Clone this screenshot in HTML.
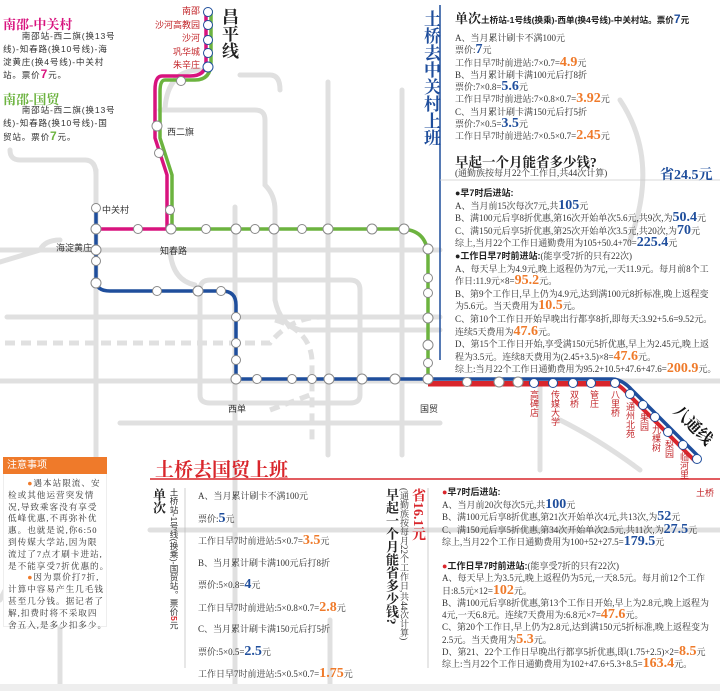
<!DOCTYPE html>
<html><head><meta charset="utf-8">
<style>
*{margin:0;padding:0;box-sizing:border-box}
body{width:720px;height:691px;background:#fff;position:relative;overflow:hidden;font-family:"Liberation Serif","Noto Serif CJK SC",serif;color:#333}
.a{position:absolute;white-space:nowrap}
.t{font-size:9px;line-height:12px}
.s{font-family:"Liberation Sans","Noto Sans CJK SC",sans-serif}
.b{color:#1f4e9c;font-weight:bold;font-size:14px}
.o{color:#ef7a2a;font-weight:bold;font-size:14px}
.v{writing-mode:vertical-rl}
</style></head><body>
<svg class="a" style="left:0;top:0" width="720" height="691">
<g stroke="#e0e0e0" stroke-width="5" fill="none" stroke-linecap="round">
<path d="M0 250 H440"/><path d="M7 317 H440"/><path d="M0 381 H720"/><path d="M120 423 H440"/>
<path d="M96 170 V470"/><path d="M235 207 V450"/><path d="M328 82 V455"/><path d="M402 90 V455"/>
<path d="M200 290 Q200 280 210 280 H350 Q360 280 360 290 V395 Q360 403 350 403 H210 Q200 403 200 395 Z"/>
<path d="M10 150 Q10 160 20 160 H85 Q96 160 96 175"/>
<path d="M160 110 H255 Q265 110 265 120 V185 Q275 195 275 210 V300 Q280 325 300 330 H440"/>
<path d="M165 108 Q168 70 200 70"/>
<path d="M170 250 Q172 280 195 285"/>
<path d="M240 75 H270 Q280 75 280 90"/>
<path d="M0 600 Q20 560 40 540"/><path d="M60 480 V691"/><path d="M330 620 V691"/>
<path d="M150 530 H720"/><path d="M235 440 V691"/><path d="M540 380 V470"/>
<path d="M40 250 Q45 240 60 240"/><path d="M0 262 L40 250"/>
<path d="M620 100 Q660 160 630 240"/><path d="M560 420 Q600 440 640 470"/>
</g>
<g stroke="#e0e0e0" stroke-width="5" fill="none" stroke-dasharray="10,6">
<path d="M5 343 H270 Q290 318 320 317 H440"/><path d="M275 320 Q310 330 312 360 V440"/><path d="M270 410 L310 395"/>
</g>
<path d="M440 5 V360" stroke="#1f4e9c" stroke-width="1.5"/>
<path d="M440 180 H720" stroke="#ccc" stroke-width="0.7"/>
<path d="M150 479 H720" stroke="#d9262c" stroke-width="1.5"/>
<path d="M185 488 V668" stroke="#bbb" stroke-width="0.7"/>
<path d="M428 488 V668" stroke="#bbb" stroke-width="0.7"/>
<g fill="none" stroke-width="3.5" stroke-linejoin="round">
<path d="M211 10 V62 Q211 80 195 80 H165 Q160 80 160 92 V138 L172 175 V231" stroke="#6cb33f"/>
<path d="M206 10 V62 Q206 76 190 76 H162 Q155 76 155 90 V138 L167 175 V229 H96" stroke="#d8137e"/>
<path d="M172 229 H400 Q428 229 428 258 V379" stroke="#6cb33f"/>
<path d="M96 208 V280 Q96 291 110 291 H222 Q236 291 236 305 V379 H612 Q622 379 632 390 L700 458" stroke="#1f4e9c"/>
<path d="M428 383 H612 Q618 383 628 394 L696 462" stroke="#d9262c" stroke-width="4"/>
<path d="M428 385 H612" stroke="#d9262c" stroke-width="3"/>
</g>
<g fill="#fff" stroke="#888" stroke-width="1">
<circle cx="208" cy="12" r="4.5" stroke="#1f4e9c"/><circle cx="208" cy="25" r="4.5" stroke="#1f4e9c"/><circle cx="208" cy="40" r="4.5" stroke="#1f4e9c"/><circle cx="208" cy="53" r="4.5" stroke="#1f4e9c"/><circle cx="208" cy="67" r="5" stroke="#1f4e9c"/>
<circle cx="181" cy="81" r="4.5"/><circle cx="157" cy="126" r="5"/><circle cx="159" cy="153" r="4.5"/><circle cx="170" cy="210" r="4.5"/>
<circle cx="96" cy="208" r="4.5"/><circle cx="96" cy="229" r="5"/><circle cx="138" cy="229" r="4.5"/><circle cx="171" cy="229" r="5"/>
<circle cx="206" cy="229" r="4.5"/><circle cx="236" cy="229" r="5"/><circle cx="255" cy="229" r="4.5"/><circle cx="274" cy="229" r="5"/><circle cx="302" cy="229" r="4.5"/><circle cx="328" cy="229" r="5"/><circle cx="372" cy="229" r="5"/><circle cx="404" cy="229" r="5"/>
<circle cx="428" cy="249" r="5"/><circle cx="428" cy="278" r="4.5"/><circle cx="428" cy="293" r="4.5"/><circle cx="428" cy="318" r="5"/><circle cx="428" cy="345" r="5"/><circle cx="428" cy="363" r="4.5"/><circle cx="428" cy="379" r="5"/>
<circle cx="96" cy="250" r="5"/><circle cx="96" cy="261" r="4.5"/><circle cx="96" cy="283" r="5"/><circle cx="157" cy="291" r="4.5"/><circle cx="198" cy="291" r="5"/><circle cx="221" cy="291" r="4.5"/>
<circle cx="236" cy="317" r="4.5"/><circle cx="236" cy="343" r="4.5"/><circle cx="236" cy="360" r="4.5"/><circle cx="236" cy="379" r="5"/>
<circle cx="257" cy="379" r="4.5"/><circle cx="292" cy="379" r="4.5"/><circle cx="312" cy="379" r="4.5"/><circle cx="329" cy="379" r="5"/><circle cx="362" cy="379" r="5"/><circle cx="395" cy="379" r="5"/>
<circle cx="467" cy="382" r="4.5"/><circle cx="499" cy="382" r="5"/><circle cx="518" cy="382" r="5"/>
<g stroke="#1f4e9c"><circle cx="534" cy="383" r="4.5"/><circle cx="553" cy="383" r="4.5"/><circle cx="573" cy="383" r="4.5"/><circle cx="591" cy="383" r="4.5"/><circle cx="615" cy="383" r="4.5"/><circle cx="630" cy="394" r="4.5"/><circle cx="643" cy="405" r="4.5"/><circle cx="655" cy="417" r="4.5"/><circle cx="668" cy="432" r="4.5"/><circle cx="683" cy="445" r="4.5"/><circle cx="697" cy="459" r="4.5"/></g>
</g>
</svg>
<div class="a s" style="left:150px;top:5px;font-size:9px;color:#c3272b;text-align:right;width:50px;line-height:13.5px">南邵<br>沙河高教园<br>沙河<br>巩华城<br>朱辛庄</div>
<div class="a v" style="left:218px;top:8px;font-size:17px;font-weight:bold;color:#222;line-height:20px">昌平线</div>
<div class="a s" style="left:167px;top:125px;font-size:9px">西二旗</div>
<div class="a s" style="left:102px;top:203px;font-size:9px">中关村</div>
<div class="a s" style="left:56px;top:241px;font-size:9px">海淀黄庄</div>
<div class="a s" style="left:160px;top:244px;font-size:9px">知春路</div>
<div class="a s" style="left:228px;top:402px;font-size:9px">西单</div>
<div class="a s" style="left:420px;top:402px;font-size:9px">国贸</div>
<div class="a s v" style="left:528px;top:390px;font-size:9px;color:#c3272b;line-height:11px">高碑店</div>
<div class="a s v" style="left:549px;top:390px;font-size:9px;color:#c3272b;line-height:11px">传媒大学</div>
<div class="a s v" style="left:568px;top:390px;font-size:9px;color:#c3272b;line-height:11px">双桥</div>
<div class="a s v" style="left:588px;top:390px;font-size:9px;color:#c3272b;line-height:11px">管庄</div>
<div class="a s v" style="left:609px;top:390px;font-size:9px;color:#c3272b;line-height:11px">八里桥</div>
<div class="a s v" style="left:624px;top:402px;font-size:9px;color:#c3272b;line-height:11px">通州北苑</div>
<div class="a s v" style="left:638px;top:413px;font-size:9px;color:#c3272b;line-height:11px">果园</div>
<div class="a s v" style="left:650px;top:425px;font-size:9px;color:#c3272b;line-height:11px">九棵树</div>
<div class="a s v" style="left:663px;top:440px;font-size:9px;color:#c3272b;line-height:11px">梨园</div>
<div class="a s v" style="left:678px;top:452px;font-size:9px;color:#c3272b;line-height:11px">临河里</div>
<div class="a s" style="left:696px;top:486px;font-size:9px;color:#c3272b">土桥</div>
<div class="a" style="left:668px;top:418px;width:50px;height:18px;font-size:16px;line-height:18px;font-weight:bold;color:#111;transform:rotate(45deg);transform-origin:center">八通线</div>
<div class="a" style="left:3px;top:14px;font-size:13px;font-weight:bold;color:#d8137e">南邵-中关村</div>
<div class="a s" style="left:3px;top:30px;font-size:8.6px;line-height:12.8px;letter-spacing:0.8px">　　南邵站-西二旗(换13号<br>线)-知春路(换10号线)-海<br>淀黄庄(换4号线)-中关村<br>站。票价<b style="color:#d8137e;font-size:12px">7</b>元。</div>
<div class="a" style="left:3px;top:89px;font-size:13px;font-weight:bold;color:#6cb33f">南邵-国贸</div>
<div class="a s" style="left:3px;top:104px;font-size:8.6px;line-height:12.8px;letter-spacing:0.8px">　　南邵站-西二旗(换13号<br>线)-知春路(换10号线)-国<br>贸站。票价<b style="color:#6cb33f;font-size:12px">7</b>元。</div>
<div class="a v" style="left:420px;top:10px;font-size:17px;font-weight:bold;color:#1f4e9c;line-height:20px">土桥去中关村上班</div>
<div class="a" style="left:455px;top:8px;font-size:13px;font-weight:bold;color:#222">单次<span style="font-size:8.6px" class="s">土桥站-1号线(换乘)-西单(换4号线)-中关村站。票价<b style="color:#1f4e9c;font-size:12px">7</b>元</span></div>
<div class="a t" style="left:455px;top:32px;line-height:12.3px">A、当月累计刷卡不满100元<br>票价:<span class="b">7</span>元<br>工作日早7时前进站:7×0.7=<span class="o">4.9</span>元<br>B、当月累计刷卡满100元后打8折<br>票价:7×0.8=<span class="b">5.6</span>元<br>工作日早7时前进站:7×0.8×0.7=<span class="o">3.92</span>元<br>C、当月累计刷卡满150元后打5折<br>票价:7×0.5=<span class="b">3.5</span>元<br>工作日早7时前进站:7×0.5×0.7=<span class="o">2.45</span>元</div>
<div class="a" style="left:455px;top:151px;font-size:13.5px;font-weight:bold;color:#222">早起一个月能省多少钱?</div>
<div class="a t" style="left:455px;top:167px">(通勤族按每月22个工作日,共44次计算)</div>
<div class="a" style="left:660px;top:164px;font-size:14px;font-weight:bold;color:#1f4e9c">省24.5元</div>
<div class="a t" style="left:455px;top:187px;line-height:12.6px"><b class="s" style="color:#222">●早7时后进站:</b><br>A、当月前15次每次7元,共<span class="b">105</span>元<br>B、满100元后享8折优惠,第16次开始单次5.6元,共9次,为<span class="b">50.4</span>元<br>C、满150元后享5折优惠,第25次开始单次3.5元,共20次,为<span class="b">70</span>元<br>综上,当月22个工作日通勤费用为105+50.4+70=<span class="b">225.4</span>元<br><b class="s" style="color:#222">●工作日早7时前进站:</b>(能享受7折的只有22次)<br>A、每天早上为4.9元,晚上返程仍为7元,一天11.9元。每月前8个工<br>作日:11.9元×8=<span class="o">95.2</span>元。<br>B、第9个工作日,早上仍为4.9元,达到满100元8折标准,晚上返程变<br>为5.6元。当天费用为<span class="o">10.5</span>元。<br>C、第10个工作日开始早晚出行都享8折,即每天:3.92+5.6=9.52元。<br>连续5天费用为<span class="o">47.6</span>元。<br>D、第15个工作日开始,享受满150元5折优惠,早上为2.45元,晚上返<br>程为3.5元。连续8天费用为(2.45+3.5)×8=<span class="o">47.6</span>元。<br>综上:当月22个工作日通勤费用为95.2+10.5+47.6+47.6=<span class="o">200.9</span>元。</div>
<div class="a" style="left:3px;top:457px;width:104px;height:170px;border:1px solid #eee;background:#fff"></div>
<div class="a s" style="left:3px;top:457px;width:104px;height:17px;background:#ef7a2a;color:#fff;font-size:10px;line-height:17px;padding-left:4px">注意事项</div>
<div class="a t" style="left:8px;top:478px;font-size:8.6px;line-height:11.8px;letter-spacing:1px">　　<span style="color:#ef7a2a">●</span>遇本站限流、安<br>检或其他运营突发情<br>况,导致乘客没有享受<br>低峰优惠,不再弥补优<br>惠。也就是说,你6:50<br>到传媒大学站,因为限<br>流过了7点才刷卡进站,<br>是不能享受7折优惠的。<br>　　<span style="color:#ef7a2a">●</span>因为票价打7折,<br>计算中容易产生几毛钱<br>甚至几分钱。据记者了<br>解,扣费时将不采取四<br>舍五入,是多少扣多少。</div>
<div class="a" style="left:155px;top:455px;font-size:19px;font-weight:bold;color:#d9262c">土桥去国贸上班</div>
<div class="a v" style="left:151px;top:488px;font-size:13px;font-weight:bold;color:#222;line-height:14px">单次</div>
<div class="a v s" style="left:168px;top:488px;font-size:8.6px;line-height:11px">土桥站-1号线(换乘)-国贸站。票价<b style="color:#d9262c">5</b>元</div>
<div class="a t" style="left:198px;top:486px;line-height:21.5px">A、当月累计刷卡不满100元<br>票价:<span class="b">5</span>元<br>工作日早7时前进站:5×0.7=<span class="o">3.5</span>元<br>B、当月累计刷卡满100元后打8折<br>票价:5×0.8=<span class="b">4</span>元<br>工作日早7时前进站:5×0.8×0.7=<span class="o">2.8</span>元<br>C、当月累计刷卡满150元后打5折<br>票价:5×0.5=<span class="b">2.5</span>元<br>工作日早7时前进站:5×0.5×0.7=<span class="o">1.75</span>元</div>
<div class="a v" style="left:384px;top:488px;font-size:13px;font-weight:bold;color:#222;line-height:14px">早起一个月能省多少钱?</div>
<div class="a v t" style="left:398px;top:488px;line-height:11px">(通勤族按每月22个工作日,共44次计算)</div>
<div class="a v" style="left:409px;top:488px;font-size:14px;font-weight:bold;color:#d9262c;line-height:16px">省16.1元</div>
<div class="a t" style="left:442px;top:486px;line-height:12.5px"><b class="s" style="color:#222"><span style="color:#d9262c">●</span>早7时后进站:</b><br>A、当月前20次每次5元,共<span class="b">100</span>元<br>B、满100元后享8折优惠,第21次开始单次4元,共13次,为<span class="b">52</span>元<br>C、满150元后享5折优惠,第34次开始单次2.5元,共11次,为<span class="b">27.5</span>元<br>综上,当月22个工作日通勤费用为100+52+27.5=<span class="b">179.5</span>元</div>
<div class="a t" style="left:442px;top:560px;line-height:12.3px"><b class="s" style="color:#222"><span style="color:#d9262c">●</span>工作日早7时前进站:</b>(能享受7折的只有22次)<br>A、每天早上为3.5元,晚上返程仍为5元,一天8.5元。每月前12个工作<br>日:8.5元×12=<span class="o">102</span>元。<br>B、满100元后享8折优惠,第13个工作日开始,早上为2.8元,晚上返程为<br>4元,一天6.8元。连续7天费用为:6.8元×7=<span class="o">47.6</span>元。<br>C、第20个工作日,早上仍为2.8元,达到满150元5折标准,晚上返程变为<br>2.5元。当天费用为<span class="o">5.3</span>元。<br>D、第21、22个工作日早晚出行都享5折优惠,即(1.75+2.5)×2=<span class="o">8.5</span>元<br>综上:当月22个工作日通勤费用为102+47.6+5.3+8.5=<span class="o">163.4</span>元。</div>
<div class="a" style="left:0;top:684px;width:720px;height:7px;background:#eee"></div>
</body></html>
